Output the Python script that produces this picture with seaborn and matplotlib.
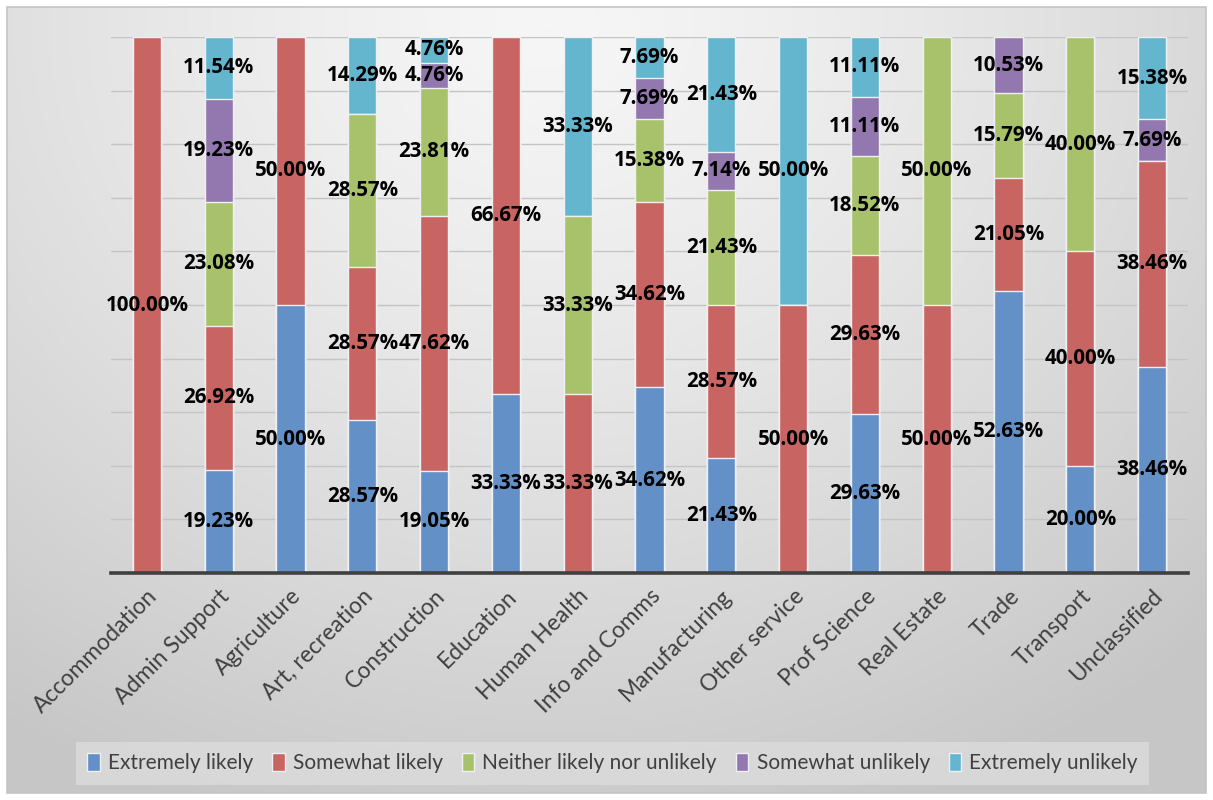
import numpy as np
import pandas as pd
import matplotlib
matplotlib.use("Agg")
import matplotlib.pyplot as plt
from matplotlib.patches import Patch, Rectangle
import seaborn as sns

categories = ["Accommodation", "Admin Support", "Agriculture", "Art, recreation",
              "Construction", "Education", "Human Health", "Info and Comms",
              "Manufacturing", "Other service", "Prof Science", "Real Estate",
              "Trade", "Transport", "Unclassified"]
extremely_likely   = [0, 19.23, 50.00, 28.57, 19.05, 33.33, 0, 34.62, 21.43, 0, 29.63, 0, 52.63, 20.00, 38.46]
somewhat_likely    = [100.00, 26.92, 50.00, 28.57, 47.62, 66.67, 33.33, 34.62, 28.57, 50.00, 29.63, 50.00, 21.05, 40.00, 38.46]
neither            = [0, 23.08, 0, 28.57, 23.81, 0, 33.33, 15.38, 21.43, 0, 18.52, 50.00, 15.79, 40.00, 0]
somewhat_unlikely  = [0, 19.23, 0, 0, 4.76, 0, 0, 7.69, 7.14, 0, 11.11, 0, 10.53, 0, 7.69]
extremely_unlikely = [0, 11.54, 0, 14.29, 4.76, 0, 33.33, 7.69, 21.43, 50.00, 11.11, 0, 0, 0, 15.38]

series_names = ["Extremely likely", "Somewhat likely", "Neither likely nor unlikely",
                "Somewhat unlikely", "Extremely unlikely"]
series_vals = [extremely_likely, somewhat_likely, neither, somewhat_unlikely, extremely_unlikely]
colors = ["#6390C6", "#C86462", "#A8C26C", "#9278AE", "#63B6CE"]

df = pd.DataFrame(dict(zip(series_names, series_vals)), index=categories)
cum = df.cumsum(axis=1)

sns.set_theme(style="white")
plt.rcParams['font.family'] = ['Lato', 'DejaVu Sans']

fig = plt.figure(figsize=(12.13, 8.0), dpi=100)
fig.patch.set_facecolor("white")

# background gradient panel
bg = fig.add_axes([0, 0, 1, 1], zorder=-10)
H, W = 400, 606
yy, xx = np.mgrid[0:H, 0:W]
xn = xx / (W - 1)
yn = yy / (H - 1)
d = np.sqrt(((xn - 0.45) / 0.75) ** 2 + ((yn - 0.02) / 1.0) ** 2)
val = 0.965 - 0.17 * np.clip(d, 0, 1.2) ** 1.3
val = np.clip(val, 0.78, 0.97)
img = np.dstack([val, val, val])
bg.imshow(img, extent=[7 / 1213, 1206 / 1213, 7 / 800, 793 / 800], origin="upper",
          aspect="auto", transform=bg.transAxes)
bg.add_patch(Rectangle((7 / 1213, 7 / 800), 1199 / 1213, 786 / 800, fill=False,
                       edgecolor="#c4c4c4", lw=1.2, transform=bg.transAxes))
bg.set_xlim(0, 1); bg.set_ylim(0, 1)
bg.axis("off")

ax = fig.add_axes([111 / 1213, 1 - 573 / 800, (1188 - 111) / 1213, (573 - 37) / 800])
ax.patch.set_alpha(0)

long = cum.reset_index().rename(columns={"index": "cat"})
for i in range(len(series_names) - 1, -1, -1):
    name = series_names[i]
    sns.barplot(data=long, x="cat", y=name, color=colors[i], width=0.39, ax=ax,
                saturation=1, edgecolor="#eef0f4", linewidth=1.0, zorder=2, errorbar=None)

ax.set_xlim(-0.5, len(categories) - 0.5)
ax.set_ylim(0, 100)
ax.set_yticks(np.arange(0, 101, 10))
ax.set_yticklabels([])
ax.tick_params(axis="y", length=0)
ax.yaxis.grid(True, color="#c4c4c4", lw=1.0, zorder=0)
ax.set_axisbelow(True)
ax.set_xlabel(""); ax.set_ylabel("")
for s in ["top", "right", "left"]:
    ax.spines[s].set_visible(False)
ax.spines["bottom"].set_color("#404040")
ax.spines["bottom"].set_linewidth(2.6)
ax.spines["bottom"].set_zorder(5)
ax.tick_params(axis="x", length=0, pad=9)
ax.set_xticks(range(len(categories)))
ax.set_xticklabels(categories, rotation=45, ha="right", rotation_mode="anchor",
                   fontsize=16.5, color="#404040")

# data labels
for j, cat in enumerate(categories):
    bottom = 0.0
    for i, name in enumerate(series_names):
        v = df.loc[cat, name]
        if v > 0:
            ax.text(j, bottom + v / 2, f"{v:.2f}%", ha="center", va="center",
                    fontsize=14.8, fontweight="bold", color="black", zorder=6,
                    family=["Open Sans", "DejaVu Sans"])
        bottom += v

handles = [Patch(facecolor=c, edgecolor="#eef0f4", label=n) for c, n in zip(colors, series_names)]
leg = fig.legend(handles=handles, loc="center", bbox_to_anchor=(0.505, 0.046), ncol=5,
                 frameon=True, fontsize=15, handlelength=0.6, handleheight=0.9,
                 handletextpad=0.4, columnspacing=0.9, borderpad=0.55)
leg.get_frame().set_facecolor("#dcdcdc")
leg.get_frame().set_edgecolor("none")
leg.get_frame().set_alpha(0.8)
leg.get_frame().set_boxstyle("square", pad=0.0)
for t in leg.get_texts():
    t.set_color("#404040")

fig.savefig("out.png", dpi=100)
